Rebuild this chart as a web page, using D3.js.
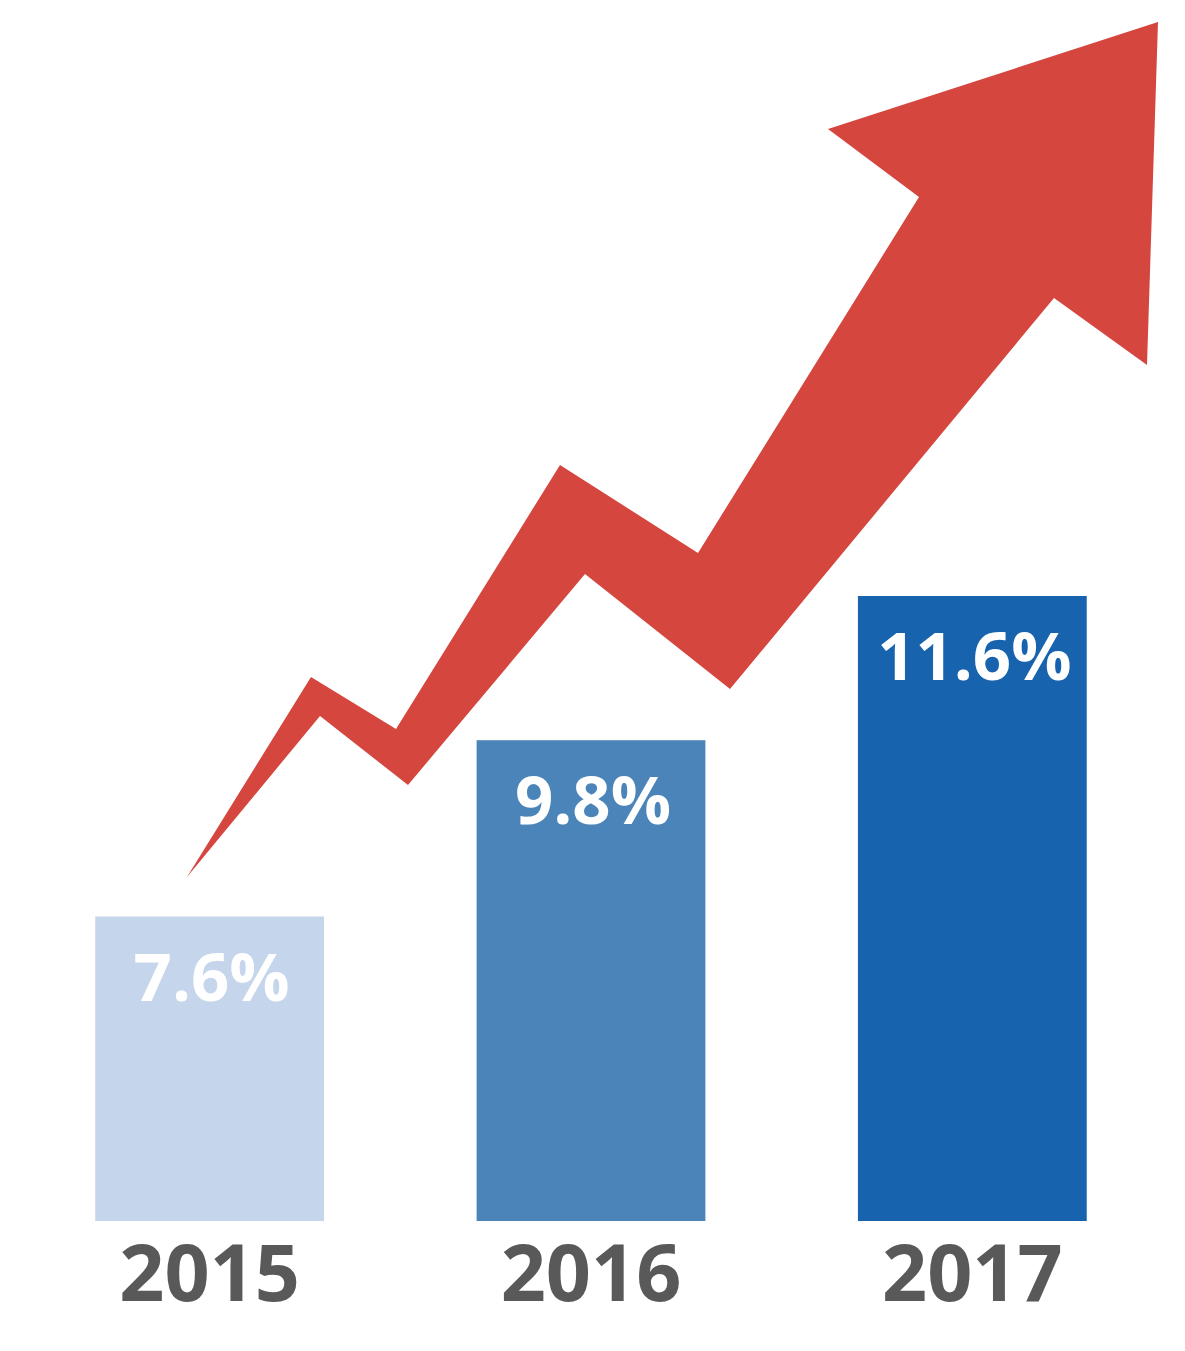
<!DOCTYPE html>
<html>
<head>
<meta charset="utf-8">
<script src="https://cdn.jsdelivr.net/npm/d3@7"></script>
<style>
  body { margin: 0; background: #fff; }
  text { font-family: "Open Sans", "DejaVu Sans", sans-serif; font-weight: 700; }
</style>
</head>
<body>
<script>
// Dimensions
const width = 1185;
const height = 1351;
const baseline = 1221;

// les données
const years = ["2015", "2016", "2017"];
const growth = [7.6, 9.8, 11.6];
const barColors = ["#c5d5eb", "#4b84b8", "#1763ae"];

// la flèche rouge (décor, pas une donnée)
const arrowShape = [
  [187, 877], [311, 677], [396, 729], [560, 465], [698, 553], [919, 197],
  [828, 129], [1158, 22], [1147, 365], [1054, 298],
  [730, 689], [585, 574], [408, 785], [320, 716]
];

const svg = d3.select("body").append("svg")
  .attr("width", width)
  .attr("height", height);

const x = d3.scaleBand()
  .domain(years)
  .range([19, 1163])
  .paddingInner(0.4)
  .paddingOuter(0.2);

// échelle ajustée à l'image (les barres ne partent pas de zéro)
const y = d3.scaleLinear()
  .domain([3.8, 11.6])
  .range([baseline, 596]);

const data = years.map((year, i) => ({ year, value: growth[i], color: barColors[i] }));

// flèche
svg.append("path")
  .attr("d", d3.line()(arrowShape) + "Z")
  .attr("fill", "#d5463f");

// barres
svg.selectAll("rect.bar")
  .data(data)
  .join("rect")
  .attr("class", "bar")
  .attr("x", d => x(d.year))
  .attr("y", d => y(d.value))
  .attr("width", x.bandwidth())
  .attr("height", d => baseline - y(d.value))
  .attr("fill", d => d.color);

// pourcentages dans les barres
svg.selectAll("text.value")
  .data(data)
  .join("text")
  .attr("class", "value")
  .attr("x", d => x(d.year) + x.bandwidth() / 2 + 2)
  .attr("y", d => y(d.value) + 84)
  .attr("text-anchor", "middle")
  .style("font-size", "67px")
  .style("fill", "#fff")
  .text(d => d.value.toFixed(1) + "%");

// années sous les barres
svg.selectAll("text.year")
  .data(data)
  .join("text")
  .attr("class", "year")
  .attr("x", d => x(d.year) + x.bandwidth() / 2)
  .attr("y", 1301)
  .attr("text-anchor", "middle")
  .style("font-size", "79px")
  .style("fill", "#595959")
  .text(d => d.year);
</script>
</body>
</html>
